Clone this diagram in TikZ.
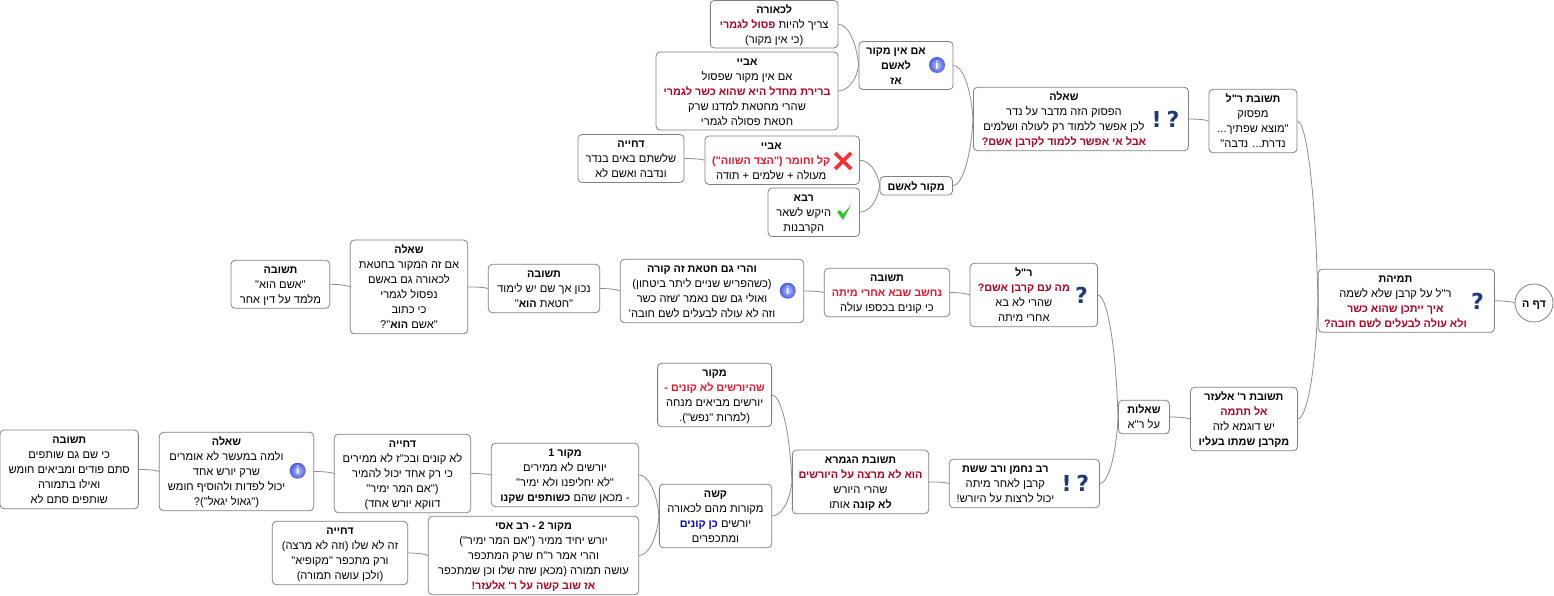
\documentclass[tikz,border=0pt]{standalone}
\usepackage{fontspec}
\usepackage{xcolor}
\usetikzlibrary{calc}
\TeXXeTstate=1
\newfontfamily\hebfont[Script=Hebrew,BoldFeatures={Scale=0.97}]{Liberation Sans}
\newfontfamily\iconfont{DejaVu Sans}
% colours of the text sit in the font, colour specials do not survive right-to-left text
\newfontfamily\deepredfont[Script=Hebrew,Color=B00020,BoldFeatures={Scale=0.97}]{Liberation Sans}
\newfontfamily\brightredfont[Script=Hebrew,Color=E3172D,BoldFeatures={Scale=0.97}]{Liberation Sans}
\newfontfamily\deepbluefont[Script=Hebrew,Color=0000C0,BoldFeatures={Scale=0.97}]{Liberation Sans}
\definecolor{icon_navy}{HTML}{1F3A78}
\definecolor{info_blue}{HTML}{4A5CE0}
\definecolor{info_light}{HTML}{B8C4FA}
\newcommand{\he}[1]{\beginR #1\endR}
\newcommand{\ttl}[1]{\he{\textbf{#1}}}
\newcommand{\dred}[1]{{\deepredfont\bfseries #1}}
\newcommand{\bred}[1]{{\brightredfont\bfseries #1}}
\newcommand{\dblue}[1]{{\deepbluefont\bfseries #1}}
% the optional argument pushes the text aside, to leave room for an icon
\newcommand{\nodelines}[2][0pt]{\setbox\strutbox\hbox{\vrule height 11.7pt depth 3.3pt width 0pt}\hspace*{#1}\begin{tabular}{@{}c@{}}#2\end{tabular}}

\begin{document}
\begin{tikzpicture}[x=1pt, y=-1pt]
    % ================= styles =================
    \tikzset{
        % boxes of the map
        mapnode/.style={rectangle, rounded corners=4, draw=black!50, thick, fill=white, inner sep=0pt,
            font=\fontsize{11.15}{15}\selectfont\hebfont},
        boxsize/.style 2 args={minimum width=#1, minimum height=#2},
        rootnode/.style={circle, draw=black!50, thick, fill=white, inner sep=0pt, minimum size=38,
            font=\fontsize{11.15}{15}\selectfont\hebfont},
        % branches
        grey_link/.style={thick, black!45},
        % icons
        qmark/.style={inner sep=0pt, text=icon_navy, font=\fontsize{22}{22}\selectfont\iconfont\bfseries},
        infoicon/.style={circle, inner sep=0pt, minimum size=16, inner color=info_light, outer color=info_blue, text=white,
            font=\fontsize{12}{12}\selectfont\hebfont\bfseries},
        crossicon/.style={inner sep=0pt, minimum size=20, path picture={
            \draw[line width=3.6, red!80!white] ([shift={(-8,-8)}]path picture bounding box.center) -- ([shift={(8,8)}]path picture bounding box.center);
            \draw[line width=3.6, red!80!white] ([shift={(8,-8)}]path picture bounding box.center) -- ([shift={(-8,8)}]path picture bounding box.center);}},
        tickicon/.style={inner sep=0pt, minimum size=18, path picture={
            \fill[green!70!black!80!white] ([shift={(-7,0)}]path picture bounding box.center) -- ([shift={(-4,-2)}]path picture bounding box.center)
                -- ([shift={(-1,2)}]path picture bounding box.center) -- ([shift={(7,-7)}]path picture bounding box.center)
                -- ([shift={(-1,8)}]path picture bounding box.center) -- cycle;}}
    }
    \useasboundingbox (0,0) rectangle (1554,595);

    % ================= root and right column =================
    \node[rootnode] (root) at (1534,303) {\nodelines{\ttl{דף ה}}};
    \node[mapnode, boxsize={176.2}{63}] (tamihat) at (1406.4,300.8) {\nodelines[-22pt]{\ttl{תמיהת}\\\he{ר"ל על קרבן שלא לשמה}\\\he{\dred{איך ייתכן שהוא כשר}}\\\he{\dred{ולא עולה לבעלים לשם חובה?}}}};
    \node[mapnode, boxsize={88}{63.4}] (rl_answer) at (1253,121) {\nodelines{\ttl{תשובת ר"ל}\\\he{מפסוק}\\\he{"מוצא שפתיך...}\\\he{נדרת... נדבה"}}};
    \node[mapnode, boxsize={107}{63.4}] (elazar) at (1243.9,419) {\nodelines{\ttl{תשובת ר' אלעזר}\\\he{\dred{אל תתמה}}\\\he{יש דוגמא לזה}\\\ttl{מקרבן שמתו בעליו}}};

    % ================= top branch =================
    \node[mapnode, boxsize={215}{63.4}] (sheela_top) at (1080.9,119) {\nodelines[-34pt]{\ttl{שאלה}\\\he{הפסוק הזה מדבר על נדר}\\\he{לכן אפשר ללמוד רק לעולה ושלמים}\\\he{\dred{אבל אי אפשר ללמוד לקרבן אשם?}}}};
    \node[mapnode, boxsize={94}{48}] (no_source) at (906,65.5) {\nodelines[-20pt]{\ttl{אם אין מקור}\\\ttl{לאשם}\\\ttl{אז}}};
    \node[mapnode, boxsize={72.5}{18.5}] (source) at (916.2,185.8) {\nodelines{\ttl{מקור לאשם}}};
    \node[mapnode, boxsize={127.7}{47.5}] (lekhora) at (774.2,24.2) {\nodelines{\ttl{לכאורה}\\\he{צריך להיות \dred{פסול לגמרי}}\\\he{(כי אין מקור)}}};
    \node[mapnode, boxsize={182}{78}] (abaye_a) at (747,91) {\nodelines{\ttl{אביי}\\\he{אם אין מקור שפסול}\\\he{\dred{ברירת מחדל היא שהוא כשר לגמרי}}\\\he{שהרי מחטאת למדנו שרק}\\\he{חטאת פסולה לגמרי}}};
    \node[mapnode, boxsize={154.5}{48.5}] (abaye_b) at (782.2,160.2) {\nodelines[-22pt]{\ttl{אביי}\\\he{\bred{קל וחומר ("הצד השווה")}}\\\he{מעולה + שלמים + תודה}}};
    \node[mapnode, boxsize={91.5}{48.5}] (rava) at (813.8,212.2) {\nodelines[-20pt]{\ttl{רבא}\\\he{היקש לשאר}\\\he{הקרבנות}}};
    \node[mapnode, boxsize={106}{48}] (dhiya_a) at (631,158.5) {\nodelines{\ttl{דחייה}\\\he{שלשתם באים בנדר}\\\he{ונדבה ואשם לא}}};

    % ================= middle branch =================
    \node[mapnode, boxsize={51}{33.4}] (shaalot) at (1143.9,417) {\nodelines{\ttl{שאלות}\\\he{על ר"א}}};
    \node[mapnode, boxsize={127.5}{63.4}] (resh) at (1033.8,295) {\nodelines[-20pt]{\ttl{ר"ל}\\\he{\dred{מה עם קרבן אשם?}}\\\he{שהרי לא בא}\\\he{אחרי מיתה}}};
    \node[mapnode, boxsize={125.4}{48.4}] (teshuva_a) at (887,292.5) {\nodelines{\ttl{תשובה}\\\he{\bred{נחשב שבא אחרי מיתה}}\\\he{כי קונים בכספו עולה}}};
    \node[mapnode, boxsize={183.4}{63.4}] (vaharei) at (712,291) {\nodelines[-20pt]{\ttl{והרי גם חטאת זה קורה}\\\he{(כשהפריש שניים ליתר ביטחון)}\\\he{ואולי גם שם נאמר 'שזה כשר}\\\he{וזה לא עולה לבעלים לשם חובה'}}};
    \node[mapnode, boxsize={111.4}{48.4}] (teshuva_b) at (544,288.5) {\nodelines{\ttl{תשובה}\\\he{נכון אך שם יש לימוד}\\\he{"חטאת \textbf{הוא}"}}};
    \node[mapnode, boxsize={117.4}{93.7}] (sheela_mid) at (409,286.9) {\nodelines{\ttl{שאלה}\\\he{אם זה המקור בחטאת}\\\he{לכאורה גם באשם}\\\he{נפסול לגמרי}\\\he{כי כתוב}\\\he{"אשם \textbf{הוא}"?}}};
    \node[mapnode, boxsize={98.7}{48}] (teshuva_c) at (280.4,284.3) {\nodelines{\ttl{תשובה}\\\he{"אשם הוא"}\\\he{מלמד על דין אחר}}};

    % ================= bottom branch =================
    \node[mapnode, boxsize={150.3}{48.4}] (nachman) at (1024.3,483.5) {\nodelines[-38pt]{\ttl{רב נחמן ורב ששת}\\\he{קרבן לאחר מיתה}\\\he{יכול לרצות על היורש!}}};
    \node[mapnode, boxsize={136.3}{63.7}] (gemara) at (860.5,481.9) {\nodelines{\ttl{תשובת הגמרא}\\\he{\dred{הוא לא מרצה על היורשים}}\\\he{שהרי היורש}\\\he{\textbf{לא קונה} אותו}}};
    \node[mapnode, boxsize={114}{63.4}] (makor) at (714.6,395) {\nodelines{\ttl{מקור}\\\he{\bred{שהיורשים לא קונים -}}\\\he{יורשים מביאים מנחה}\\\he{(למרות "נפש").}}};
    \node[mapnode, boxsize={112.3}{63.4}] (kashe) at (715.5,516) {\nodelines{\ttl{קשה}\\\he{מקורות מהם לכאורה}\\\he{יורשים \dblue{כן קונים}}\\\he{ומתכפרים}}};
    \node[mapnode, boxsize={147.4}{63.4}] (makor_a) at (565,475) {\nodelines{\ttl{מקור 1}\\\he{יורשים לא ממירים}\\\he{"לא יחליפנו ולא ימיר"}\\\he{- מכאן שהם \textbf{כשותפים שקנו}}}};
    \node[mapnode, boxsize={210.4}{78.4}] (makor_b) at (533.5,555.5) {\nodelines{\ttl{מקור 2 - רב אסי}\\\he{יורש יחיד ממיר ("אם המר ימיר")}\\\he{והרי אמר ר"ח שרק המתכפר}\\\he{עושה תמורה (מכאן שזה שלו וכן שמתכפר}\\\he{\dred{אז שוב קשה על ר' אלעזר!}}}};
    \node[mapnode, boxsize={136.4}{78.4}] (dhiya_b) at (402.5,473.5) {\nodelines{\ttl{דחייה}\\\he{לא קונים ובכ"ז לא ממירים}\\\he{כי רק אחד יכול להמיר}\\\he{("אם המר ימיר"}\\\he{דווקא יורש אחד)}}};
    \node[mapnode, boxsize={135.4}{63.4}] (dhiya_c) at (340,553) {\nodelines{\ttl{דחייה}\\\he{זה לא שלו (וזה לא מרצה)}\\\he{ורק מתכפר "מקופיא"}\\\he{(ולכן עושה תמורה)}}};
    \node[mapnode, boxsize={154.4}{78.4}] (sheela_low) at (236.5,471.5) {\nodelines[-20pt]{\ttl{שאלה}\\\he{ולמה במעשר לא אומרים}\\\he{שרק יורש אחד}\\\he{יכול לפדות ולהוסיף חומש}\\\he{("גאול יגאל")?}}};
    \node[mapnode, boxsize={138.3}{78.7}] (teshuva_d) at (69.2,469.4) {\nodelines{\ttl{תשובה}\\\he{כי שם גם שותפים}\\\he{סתם פודים ומביאים חומש}\\\he{ואילו בתמורה}\\\he{שותפים סתם לא}}};

    % ================= icons =================
    \node[qmark] (tamihat_q) at (1477.4,301) {?};
    \node[qmark] (sheela_q) at (1173,119) {?};
    \node[qmark] (sheela_x) at (1156.6,119) {!};
    \node[qmark] (resh_q) at (1081.6,295) {?};
    \node[qmark] (nachman_q) at (1082.7,483) {?};
    \node[qmark] (nachman_x) at (1066.7,483) {!};
    \node[infoicon] (no_source_i) at (937,65) {i};
    \node[infoicon] (vaharei_i) at (787.7,290.7) {i};
    \node[infoicon] (sheela_low_i) at (297.7,470.7) {i};
    \node[crossicon] (abaye_no) at (843,161) {};
    \node[tickicon] (rava_yes) at (844,212) {};

    % ================= branches =================
    \foreach \up/\down in {root/tamihat, tamihat/rl_answer, tamihat/elazar, rl_answer/sheela_top,
        sheela_top/no_source, sheela_top/source, no_source/lekhora, no_source/abaye_a,
        source/abaye_b, source/rava, abaye_b/dhiya_a, elazar/shaalot, shaalot/resh, shaalot/nachman,
        resh/teshuva_a, teshuva_a/vaharei, vaharei/teshuva_b, teshuva_b/sheela_mid, sheela_mid/teshuva_c,
        nachman/gemara, gemara/makor, gemara/kashe, kashe/makor_a, kashe/makor_b, makor_a/dhiya_b,
        dhiya_b/sheela_low, sheela_low/teshuva_d, makor_b/dhiya_c}
        \draw[grey_link] let \p1=(\up.west), \p2=(\down.east) in
            (\p1) .. controls ({\x1+0.12*(\x2-\x1)},{\y1+0.65*(\y2-\y1)}) and ({\x1+0.6*(\x2-\x1)},\y2) .. (\p2);
\end{tikzpicture}
\end{document}
